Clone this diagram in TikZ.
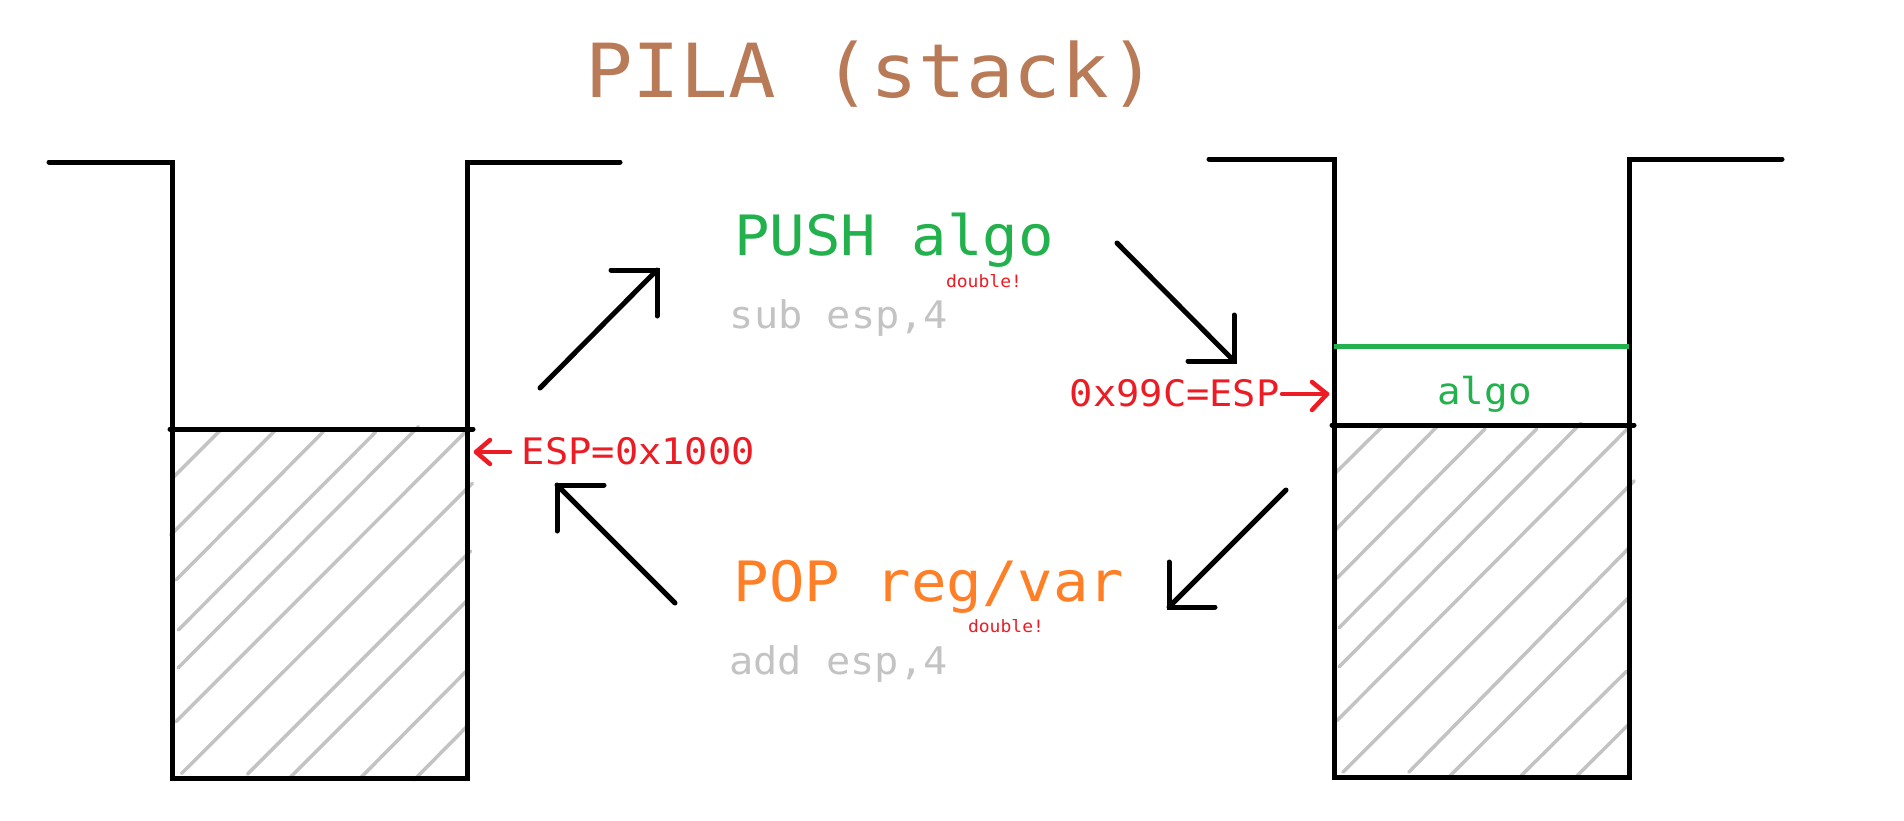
\documentclass[tikz,border=0pt]{standalone}
\usepackage{fontspec}
\newfontfamily\monofont[FakeStretch=1.06]{DejaVu Sans Mono}
\newcommand\setfs[1]{\fontsize{#1}{#1}\selectfont}
\definecolor{titlebrown}{HTML}{B97A57}
\definecolor{pushgreen}{HTML}{22B14C}
\definecolor{poporange}{HTML}{FF7F27}
\definecolor{espred}{HTML}{ED1C24}
\definecolor{hatchgray}{HTML}{C3C3C3}
\begin{document}
\begin{tikzpicture}[x=1pt,y=-1pt,
  wall/.style={line width=5pt, line join=miter, line cap=round},
  hatchline/.style={line width=3.5pt, draw=hatchgray, line cap=round},
  bigarrow/.style={line width=5pt, line cap=round, line join=miter},
  redarrow/.style={line width=4.5pt, draw=espred, line cap=round, line join=round},
  txt/.style={inner sep=0pt, anchor=base}]
\fill[white] (0,0) rectangle (1904,820);
\useasboundingbox (0,0) rectangle (1904,820);

% title
\node[txt, text=titlebrown, font=\monofont\setfs{74.6}] (title) at (871,97.7) {PILA (stack)};

% left stack
\foreach \ax/\ay/\bx/\by in {171.7/479/220.7/430, 170.7/535/276.7/429, 176/580/323.3/431.7,
  178.3/630/376/431.7, 178.3/667.7/418.3/426.7, 176/721.7/465.7/431.7, 181.7/773.3/472.3/483.3,
  247.7/774/470.7/551, 289.3/778.3/467.7/600, 360.7/777.7/465.7/671.7, 414/780/467.7/725.7}
  \draw[hatchline] (\ax,\ay) -- (\bx,\by);
\draw[wall] (49,162) -- (172,162) -- (172,778) -- (467,778) -- (467,162) -- (620,162);
\coordinate (lsl) at (170,429);
\coordinate (lsr) at (473,429);
\draw[wall] (lsl) -- (lsr);

% right stack
\foreach \ax/\ay/\bx/\by in {1333.4/475/1381.9/426.9, 1333.4/532/1438/425.6, 1337/578.2/1485.1/428.7,
  1339.2/627.6/1536.8/428.7, 1339.2/666.7/1580.8/423.3, 1337/720.6/1627.5/428.7, 1342.8/772.2/1634.2/480.8,
  1408.8/772.2/1628.8/548.1, 1450.1/775.8/1628.8/597.5, 1521/775.8/1626.6/671.2, 1575.8/777.1/1628.8/724.2}
  \draw[hatchline] (\ax,\ay) -- (\bx,\by);
\draw[wall] (1209,159) -- (1334,159) -- (1334,777) -- (1629,777) -- (1629,159) -- (1782,159);
\coordinate (rsl) at (1332,425);
\coordinate (rsr) at (1634,425);
\draw[wall] (rsl) -- (rsr);
\coordinate (gl) at (1334,346);
\coordinate (gr) at (1629,346);
\draw[wall, draw=pushgreen, line cap=butt] (gl) -- (gr);
\node[txt, text=pushgreen, font=\monofont\setfs{37}] (algo) at (1484.5,404) {algo};

% texts
\node[txt, text=pushgreen, font=\monofont\setfs{55.6}] (push) at (894,255.7) {PUSH algo};
\node[txt, text=espred, font=\monofont\setfs{17}] (dbl1) at (984,287.7) {double!};
\node[txt, text=hatchgray, font=\monofont\setfs{38}] (sub) at (839,328.3) {sub esp,4};
\node[txt, text=poporange, font=\monofont\setfs{55.6}] (pop) at (929,601) {POP reg/var};
\node[txt, text=espred, font=\monofont\setfs{17}] (dbl2) at (1006,632) {double!};
\node[txt, text=hatchgray, font=\monofont\setfs{38}] (add) at (838.5,674) {add esp,4};
\node[txt, text=espred, font=\monofont\setfs{36.5}] (esp1) at (638.4,464.3) {ESP=0x1000};
\node[txt, text=espred, font=\monofont\setfs{36.5}] (esp2) at (1174.7,406) {0x99C=ESP};

% big arrows
\coordinate (aT) at (540,388); \coordinate (aH) at (657,270);
\coordinate (aL) at (611,270); \coordinate (aR) at (657,316);
\draw[bigarrow] (aT) -- (aH);
\draw[bigarrow] (aL) -- (aH) -- (aR);

\coordinate (bT) at (1117,243); \coordinate (bH) at (1234,361);
\coordinate (bL) at (1188,361); \coordinate (bR) at (1234,315);
\draw[bigarrow] (bT) -- (bH);
\draw[bigarrow] (bL) -- (bH) -- (bR);

\coordinate (cT) at (1286,490); \coordinate (cH) at (1169,607);
\coordinate (cL) at (1169,562); \coordinate (cR) at (1215,607);
\draw[bigarrow] (cT) -- (cH);
\draw[bigarrow] (cL) -- (cH) -- (cR);

\coordinate (dT) at (675,603); \coordinate (dH) at (557,485);
\coordinate (dL) at (604,485); \coordinate (dR) at (557,531);
\draw[bigarrow] (dT) -- (dH);
\draw[bigarrow] (dL) -- (dH) -- (dR);

% red arrows
\coordinate (eT) at (510,452); \coordinate (eH) at (476,452);
\coordinate (eA) at (490,440); \coordinate (eB) at (490,464);
\draw[redarrow] (eT) -- (eH);
\draw[redarrow] (eA) -- (eH) -- (eB);

\coordinate (fT) at (1282,394); \coordinate (fH) at (1327,394);
\coordinate (fA) at (1312,382); \coordinate (fB) at (1312,410);
\draw[redarrow] (fT) -- (fH);
\draw[redarrow] (fA) -- (fH) -- (fB);
\end{tikzpicture}
\end{document}
